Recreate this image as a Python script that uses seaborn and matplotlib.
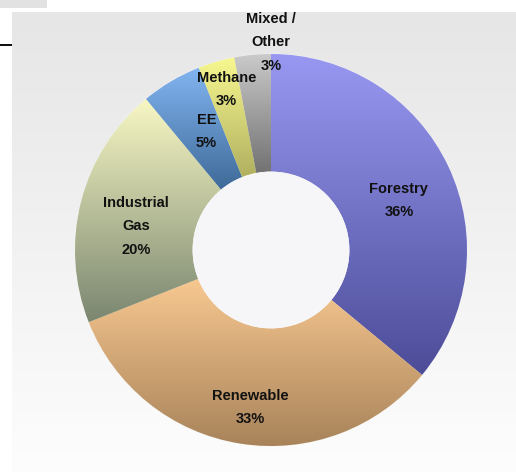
import matplotlib
matplotlib.use("Agg")
import matplotlib.pyplot as plt
from matplotlib.colors import LinearSegmentedColormap
from matplotlib.patches import Rectangle, Circle
import seaborn as sns
import numpy as np

# data
categories = ["Forestry", "Renewable", "Industrial\nGas", "EE", "Methane", "Mixed /\nOther"]
shares = [36, 33, 20, 5, 3, 3]

# light (top) -> dark (bottom) colour for each slice
top_colors = ["#9898f2", "#f8c890", "#f8f8c4", "#82b4f0", "#f8f890", "#cacaca"]
bottom_colors = ["#4c4c98", "#a8835a", "#7a8670", "#3e6a98", "#b0b060", "#727272"]

# label placement, relative to slice mid angle
label_radius = [0.70, 0.81, 0.70, 0.69, 0.85, 1.06]
label_turn = [-4.0, 1.4, 4.4, -2.0, -0.8, -5.4]

sns.set_theme(style="white")
plt.rcParams["font.family"] = ["Liberation Sans", "DejaVu Sans"]

W, H = 516, 472
fig = plt.figure(figsize=(W / 100, H / 100), dpi=100)
fig.patch.set_facecolor("white")

# grey plot area with a soft fade toward the bottom
bg = fig.add_axes([12 / W, 0, 1 - 12 / W, 1 - 12 / H])
bg_cmap = LinearSegmentedColormap.from_list("bg", ["#fdfdfd", "#e6e6e6"])
bg.imshow(np.linspace(0, 1, 256).reshape(-1, 1), cmap=bg_cmap, origin="lower",
          aspect="auto", extent=(0, 1, 0, 1))
bg.axis("off")

# small leftovers of the surrounding slide
fig.patches.append(Rectangle((0, 1 - 8 / H), 47 / W, 8 / H, transform=fig.transFigure,
                             facecolor="#e2e2e2", edgecolor="none"))
fig.patches.append(Rectangle((0, 1 - 46 / H), 12 / W, 2 / H, transform=fig.transFigure,
                             facecolor="#111111", edgecolor="none"))

cx, cy, R = 271, 250, 196
ax = fig.add_axes([(cx - R) / W, (H - cy - R) / H, 2 * R / W, 2 * R / H])
ax.patch.set_alpha(0)

hole = 0.40
wedges, _ = ax.pie(shares, startangle=90, counterclock=False, radius=1,
                   colors=top_colors,
                   wedgeprops=dict(width=1 - hole, edgecolor="#f4f4f4", linewidth=0.6))

for w, c_top, c_bot in zip(wedges, top_colors, bottom_colors):
    ext = w.get_path().get_extents()
    cmap = LinearSegmentedColormap.from_list("g", [c_bot, c_top])
    im = ax.imshow(np.linspace(0, 1, 256).reshape(-1, 1), cmap=cmap, origin="lower",
                   aspect="auto", extent=(ext.x0, ext.x1, ext.y0, ext.y1),
                   zorder=w.get_zorder() + 0.1)
    im.set_clip_path(w)

ax.add_patch(Circle((0, 0), hole, facecolor="#f6f6f8", edgecolor="none", zorder=3))

for w, name, pct, r, turn in zip(wedges, categories, shares, label_radius, label_turn):
    ang = np.deg2rad((w.theta1 + w.theta2) / 2 + turn)
    ax.text(r * np.cos(ang), r * np.sin(ang), f"{name}\n{pct}%", ha="center", va="center",
            fontsize=10.5, fontweight="bold", color="#111111", linespacing=1.85,
            zorder=5, clip_on=False)

ax.set_xlim(-1, 1)
ax.set_ylim(-1, 1)
ax.set_aspect("auto")
ax.axis("off")

fig.savefig("out.png", dpi=100)
